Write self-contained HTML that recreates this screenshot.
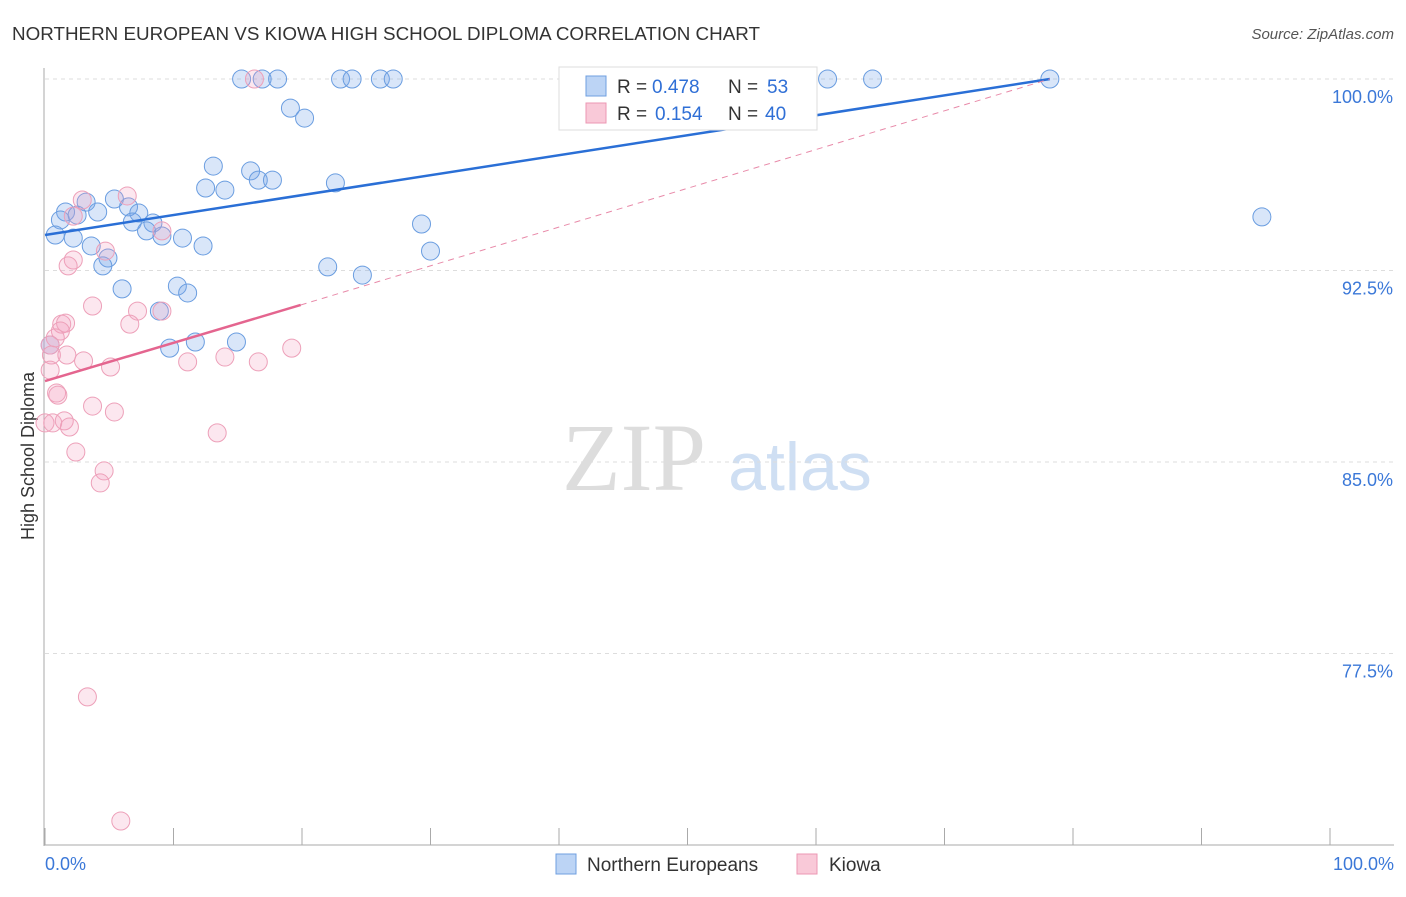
<!DOCTYPE html>
<html><head><meta charset="utf-8"><style>
body{margin:0;background:#fff;font-family:"Liberation Sans",sans-serif;}
</style></head><body>
<svg id="c" width="1406" height="892" xmlns="http://www.w3.org/2000/svg" font-family="Liberation Sans, sans-serif">
<text x="12" y="40" font-size="18" fill="#333" textLength="748" lengthAdjust="spacingAndGlyphs">NORTHERN EUROPEAN VS KIOWA HIGH SCHOOL DIPLOMA CORRELATION CHART</text>
<text x="1394" y="39" font-size="15" fill="#555" font-style="italic" text-anchor="end">Source: ZipAtlas.com</text>
<text x="634" y="490" font-size="96" fill="#ddd" font-family="Liberation Serif, serif" text-anchor="middle">ZIP</text>
<text x="800" y="490" font-size="68" fill="#cfdff3" text-anchor="middle">atlas</text>
<text transform="translate(34,456) rotate(-90)" font-size="18" fill="#333" text-anchor="middle">High School Diploma</text>
<g id="grid"></g><g id="axes"></g><g id="marks"></g>
<g>
<rect x="559" y="67" width="258" height="63" fill="#fff" stroke="#ddd"/>
<rect x="586" y="76" width="20" height="20" fill="#bcd4f5" stroke="#6f9fe0"/>
<text x="617" y="93" font-size="19" fill="#333">R =</text>
<text x="652" y="93" font-size="19" fill="#2f6fd6">0.478</text>
<text x="728" y="93" font-size="19" fill="#333">N =</text>
<text x="767" y="93" font-size="19" fill="#2f6fd6">53</text>
<rect x="586" y="103" width="20" height="20" fill="#f9c9d8" stroke="#ec97b3"/>
<text x="617" y="120" font-size="19" fill="#333">R =</text>
<text x="655" y="120" font-size="19" fill="#2f6fd6">0.154</text>
<text x="728" y="120" font-size="19" fill="#333">N =</text>
<text x="765" y="120" font-size="19" fill="#2f6fd6">40</text>
</g>
<g>
<rect x="556" y="854" width="20" height="20" fill="#bcd4f5" stroke="#6f9fe0"/>
<text x="587" y="871" font-size="19" fill="#333">Northern Europeans</text>
<rect x="797" y="854" width="20" height="20" fill="#f9c9d8" stroke="#ec97b3"/>
<text x="829" y="871" font-size="19" fill="#333">Kiowa</text>
</g>
</svg>
<script>
const yTicks=[100,92.5,85,77.5];
const yTickLabels=["100.0%","92.5%","85.0%","77.5%"];
const xTickLabels=["0.0%","100.0%"];
const blueX=[15.3,16.9,18.1,23.0,23.9,26.1,27.1,40.9,51.0,60.9,64.4,78.2,19.1,20.2,13.1,16.0,12.5,14.0,16.6,17.7,22.6,5.4,6.5,3.2,1.6,4.1,7.3,1.2,2.5,6.8,8.4,7.9,9.1,10.7,0.8,2.2,3.6,12.3,4.9,4.5,29.3,30.0,22.0,24.7,94.7,6.0,10.3,11.1,8.9,9.7,11.7,14.9,0.4];
const blueY=[100,100,100,100,100,100,100,100,100,100,100,100,98.86,98.47,96.59,96.40,95.73,95.65,96.04,96.04,95.93,95.30,94.99,95.18,94.79,94.79,94.75,94.48,94.67,94.40,94.36,94.05,93.85,93.77,93.89,93.77,93.46,93.46,92.99,92.68,94.32,93.26,92.64,92.32,94.60,91.78,91.89,91.62,90.91,89.46,89.70,89.70,89.58];
const pinkX=[16.3,6.4,2.9,2.2,9.1,4.7,2.2,1.8,3.7,7.2,9.1,1.3,1.6,1.2,6.6,0.8,0.4,0.5,1.7,3.0,5.1,11.1,14.0,16.6,19.2,0.4,0.9,1.0,3.7,5.4,1.5,0,0.6,1.9,2.4,13.4,4.6,4.3,3.3,5.9];
const pinkY=[100,95.42,95.26,94.63,94.05,93.26,92.91,92.68,91.11,90.91,90.91,90.40,90.44,90.13,90.40,89.86,89.58,89.19,89.19,88.96,88.72,88.92,89.11,88.92,89.46,88.60,87.70,87.62,87.19,86.96,86.61,86.53,86.53,86.37,85.39,86.14,84.65,84.18,75.80,70.94];
const blueTrendX=[0,78.2], blueTrendY=[93.89,100];
const pinkTrendX=[0,19.9,78.2], pinkTrendY=[88.17,91.15,100];
const sx=v=>45+v*12.85, sy=v=>79+(100-v)*25.533;
const NS="http://www.w3.org/2000/svg";
function mk(p,t,a){const e=document.createElementNS(NS,t);for(const k in a)e.setAttribute(k,a[k]);p.appendChild(e);return e;}
const grid=document.getElementById('grid'),axes=document.getElementById('axes'),marks=document.getElementById('marks');
yTicks.forEach((t,i)=>{
 const l=mk(grid,'line',{x1:45,x2:1394,y1:sy(t),y2:sy(t),stroke:'#ddd','stroke-dasharray':'4,4'});
 
 
 const tx=mk(axes,'text',{x:1393,y:sy(t)+24,'font-size':18,fill:'#3b78d8','text-anchor':'end'});
 tx.textContent=yTickLabels[i];
 
 
});
mk(axes,'line',{x1:44,x2:44,y1:68,y2:846,stroke:'#aaa'});
mk(axes,'line',{x1:44,x2:1394,y1:845,y2:845,stroke:'#aaa'});
for(let i=0;i<=10;i++){mk(axes,'line',{x1:sx(i*10),x2:sx(i*10),y1:828,y2:845,stroke:'#aaa'});}
[[0,45,'start'],[1,1394,'end']].forEach(([i,x,a])=>{const t=mk(axes,'text',{x:x,y:870,'font-size':18,fill:'#3b78d8','text-anchor':a});t.textContent=xTickLabels[i];
 
 });
blueX.forEach((x,i)=>{const c=mk(marks,'circle',{cx:sx(x),cy:sy(blueY[i]),r:9,fill:'rgba(120,165,235,0.28)',stroke:'#6a9de0','stroke-width':1});
 
 });
pinkX.forEach((x,i)=>{const c=mk(marks,'circle',{cx:sx(x),cy:sy(pinkY[i]),r:9,fill:'rgba(245,160,190,0.25)',stroke:'#eda0b9','stroke-width':1});
 
 });
const bl=mk(marks,'line',{x1:sx(blueTrendX[0]),y1:sy(blueTrendY[0]),x2:sx(blueTrendX[1]),y2:sy(blueTrendY[1]),stroke:'#2a6fd6','stroke-width':2.5});


const pl=mk(marks,'line',{x1:sx(pinkTrendX[0]),y1:sy(pinkTrendY[0]),x2:sx(pinkTrendX[1]),y2:sy(pinkTrendY[1]),stroke:'#e4658f','stroke-width':2.5});


const pd=mk(marks,'line',{x1:sx(pinkTrendX[1]),y1:sy(pinkTrendY[1]),x2:sx(pinkTrendX[2]),y2:sy(pinkTrendY[2]),stroke:'#e88aa9','stroke-width':1,'stroke-dasharray':'6,5'});


</script>
</body></html>
